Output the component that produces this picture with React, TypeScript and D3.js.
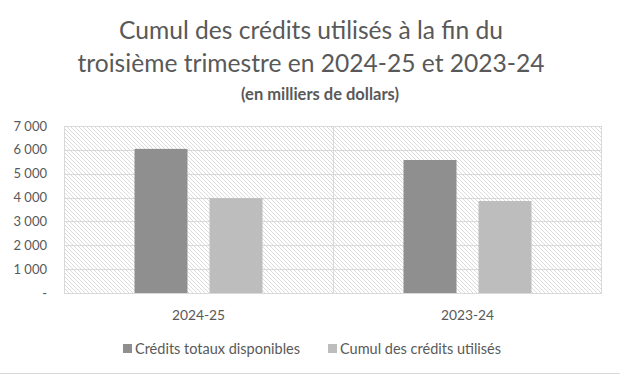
import React from "react";
import * as d3 from "d3";

const categories = ["2024-25", "2023-24"];
const seriesNames = ["Crédits totaux disponibles", "Cumul des crédits utilisés"];
const creditsTotaux = [6040, 5575];
const cumulUtilises = [3975, 3855];
const yTicks = [0, 1000, 2000, 3000, 4000, 5000, 6000, 7000];
const titleLines = ["Cumul des crédits utilisés à la fin du", "troisième trimestre en 2024-25 et 2023-24"];
const subtitle = "(en milliers de dollars)";

const W = 620;
const H = 375;
const plot = { left: 64, right: 602, top: 126, bottom: 293 };
const colors = ["#8f8f8f", "#bdbdbd"];
const textColor = "#595959";
const gridColor = "#d9d9d9";
const font = "Lato, 'Open Sans', sans-serif";

export default function App() {
  const x0 = d3.scaleBand<string>().domain(categories).range([plot.left, plot.right]).padding(0);
  const x1 = d3
    .scaleBand<string>()
    .domain(seriesNames)
    .range([0, x0.bandwidth()])
    .paddingInner(0.2933)
    .paddingOuter(0.94);
  const y = d3.scaleLinear().domain([0, 7000]).range([plot.bottom, plot.top]);
  const seriesValues = [creditsTotaux, cumulUtilises];
  const fmt = (v: number) => (v === 0 ? "-" : d3.format(",")(v).replace(/,/g, " "));

  return (
    <svg width={W} height={H} style={{ position: "absolute", left: 0, top: 0, background: "#fff" }} fontFamily={font}>
      <defs>
        <pattern id="hatch" width={4} height={4} patternUnits="userSpaceOnUse">
          <path d="M-1,-1 L5,5 M3,-1 L5,1 M-1,3 L1,5" stroke="#dcdcdc" strokeWidth={1} />
        </pattern>
      </defs>
      <rect x={0} y={0} width={W} height={H} fill="#fff" />
      <line x1={0} x2={W} y1={H - 1.5} y2={H - 1.5} stroke={gridColor} strokeWidth={1} />

      {titleLines.map((t, i) => (
        <text key={t} x={311} y={39 + i * 33} textAnchor="middle" fontSize={24.6} fill={textColor}>
          {t}
        </text>
      ))}
      <text x={320} y={100} textAnchor="middle" fontSize={16.5} fontWeight="bold" fill={textColor}>
        {subtitle}
      </text>

      <rect
        x={plot.left + 0.5}
        y={plot.top + 0.5}
        width={plot.right - plot.left - 1}
        height={plot.bottom - plot.top}
        fill="url(#hatch)"
        stroke={gridColor}
      />
      {yTicks.map((t) => (
        <g key={t}>
          <line x1={plot.left} x2={plot.right} y1={Math.round(y(t)) + 0.5} y2={Math.round(y(t)) + 0.5} stroke={gridColor} />
          <text x={47} y={y(t)} dy="0.35em" textAnchor="end" fontSize={13} fill={textColor}>
            {fmt(t)}
          </text>
        </g>
      ))}
      {categories.slice(1).map((c) => (
        <line key={c} x1={Math.round(x0(c)!) + 0.5} x2={Math.round(x0(c)!) + 0.5} y1={plot.top} y2={plot.bottom} stroke={gridColor} />
      ))}

      {categories.map((c, ci) => (
        <g key={c}>
          {seriesNames.map((s, si) => {
            const v = seriesValues[si][ci];
            return (
              <rect
                key={s}
                x={x0(c)! + x1(s)!}
                y={y(v)}
                width={x1.bandwidth()}
                height={y(0) - y(v)}
                fill={colors[si]}
              />
            );
          })}
          <text x={x0(c)! + x0.bandwidth() / 2} y={315} dy="0.35em" textAnchor="middle" fontSize={13.8} fill={textColor}>
            {c}
          </text>
        </g>
      ))}

      {seriesNames.map((s, si) => {
        const lx = [123, 328][si];
        return (
          <g key={s}>
            <rect x={lx} y={344} width={9} height={9} fill={colors[si]} />
            <text x={lx + 12} y={348.5} dy="0.35em" fontSize={14.5} fill={textColor}>
              {s}
            </text>
          </g>
        );
      })}
    </svg>
  );
}
